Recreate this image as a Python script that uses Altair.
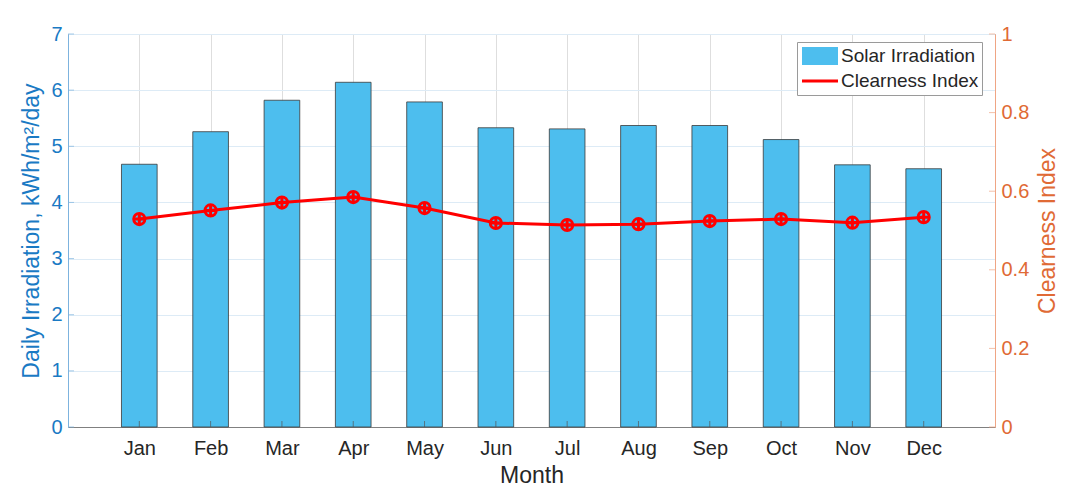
import altair as alt
import pandas as pd

months = ["Jan", "Feb", "Mar", "Apr", "May", "Jun", "Jul", "Aug", "Sep", "Oct", "Nov", "Dec"]
irradiation = [4.68, 5.26, 5.82, 6.14, 5.79, 5.33, 5.31, 5.37, 5.37, 5.12, 4.67, 4.60]
clearness = [0.529, 0.551, 0.571, 0.585, 0.557, 0.519, 0.514, 0.516, 0.524, 0.529, 0.520, 0.534]
series_names = ["Solar Irradiation", "Clearness Index"]
left_ticks = [0, 1, 2, 3, 4, 5, 6, 7]
right_ticks = [0, 0.2, 0.4, 0.6, 0.8, 1]
month_idx = list(range(1, 13))

FONT = "Liberation Sans"
LEFT_TXT = "#1A7AC4"
LEFT_LINE = "#7DB3DE"
RIGHT_TXT = "#E06A35"
RIGHT_LINE = "#EFA584"
DARK = "#262626"

df = pd.DataFrame({
    "idx": month_idx,
    "month": months,
    "irr": irradiation,
    "ci": clearness,
    "series": ["Clearness Index"] * 12,
})
lt = pd.DataFrame({"v": left_ticks})
rt = pd.DataFrame({"v": right_ticks})

xscale = alt.Scale(domain=[0, 13], nice=False, zero=False)
lscale = alt.Scale(domain=[0, 7], nice=False)
rscale = alt.Scale(domain=[0, 1], nice=False)
label_expr = "[" + ",".join(f"'{m}'" for m in months) + "][datum.value-1]"

x_axis = alt.Axis(values=month_idx, labelExpr=label_expr, title="Month", grid=True,
                  gridColor="#DEDEDE", domainColor="#808080", ticks=False,
                  labelFontSize=20, labelColor=DARK, titleFontSize=23, titleColor=DARK,
                  labelPadding=11, titlePadding=6, labelAngle=0)
l_axis = alt.Axis(values=left_ticks, title="Daily Irradiation, kWh/m²/day", grid=True,
                  gridColor="#DDEBF6", domainColor=LEFT_LINE, ticks=False,
                  labelColor=LEFT_TXT, titleColor=LEFT_TXT, labelFontSize=20, titleFontSize=23,
                  labelPadding=6, titlePadding=7)
r_axis = alt.Axis(orient="right", values=right_ticks, format="~g", title="Clearness Index",
                  grid=False, domainColor=RIGHT_LINE, ticks=False, labelColor=RIGHT_TXT,
                  titleColor=RIGHT_TXT, labelFontSize=20, titleFontSize=23, labelPadding=6,
                  titlePadding=8, titleAngle=270, titleBaseline="top")

bars = alt.Chart(df).transform_calculate(
    x0="datum.idx - 0.25", x1="datum.idx + 0.25", base0="0"
).mark_bar(fill="#4DBEEE", stroke="#3a3a3a", strokeWidth=0.8).encode(
    x=alt.X("x0:Q", scale=xscale, axis=x_axis),
    x2="x1:Q",
    y=alt.Y("irr:Q", scale=lscale, axis=l_axis),
    y2="base0:Q",
)

xticks = alt.Chart(df).transform_calculate(base0="0").mark_tick(
    orient="vertical", size=6, thickness=1, yOffset=-3, color="#555555").encode(
    x=alt.X("idx:Q", scale=xscale, axis=x_axis),
    y=alt.Y("base0:Q", scale=lscale, axis=l_axis),
)
lticks = alt.Chart(lt).transform_calculate(xl="0").mark_tick(
    orient="horizontal", size=6, thickness=1, xOffset=3, color=LEFT_LINE).encode(
    x=alt.X("xl:Q", scale=xscale, axis=x_axis),
    y=alt.Y("v:Q", scale=lscale, axis=l_axis),
)

legend = alt.Legend(orient="none", legendX=729, legendY=8, title=None,
                    symbolType="M-18,0H18", symbolSize=4, symbolOffset=10,
                    labelOffset=11, labelFontSize=19, labelFont=FONT, labelColor=DARK,
                    fillColor="white", strokeColor="#9a9a9a", padding=3, rowPadding=3,
                    clipHeight=22)

line = alt.Chart(df).mark_line().encode(
    x=alt.X("idx:Q", scale=xscale, axis=x_axis),
    y=alt.Y("ci:Q", scale=rscale, axis=r_axis),
    color=alt.Color("series:N", scale=alt.Scale(domain=series_names,
                                                range=["#4DBEEE", "#FF0000"]), legend=legend),
    strokeWidth=alt.StrokeWidth("series:O", scale=alt.Scale(domain=series_names, range=[18, 3]),
                                legend=legend),
)
circles = alt.Chart(df).mark_point(shape="circle", size=125, filled=False, color="#FF0000",
                                   strokeWidth=3, opacity=1).encode(
    x=alt.X("idx:Q", scale=xscale, axis=x_axis),
    y=alt.Y("ci:Q", scale=rscale, axis=r_axis),
)
crosses = alt.Chart(df).mark_point(shape="M-1,0H1M0,-1V1", size=150, filled=False,
                                   color="#FF0000", strokeWidth=3, opacity=1).encode(
    x=alt.X("idx:Q", scale=xscale, axis=x_axis),
    y=alt.Y("ci:Q", scale=rscale, axis=r_axis),
)
rticks = alt.Chart(rt).transform_calculate(xr="13").mark_tick(
    orient="horizontal", size=6, thickness=1, xOffset=-3, color=RIGHT_LINE).encode(
    x=alt.X("xr:Q", scale=xscale, axis=x_axis),
    y=alt.Y("v:Q", scale=rscale, axis=r_axis),
)

left = alt.layer(bars, xticks, lticks)
right = alt.layer(line, circles, crosses, rticks)

chart = alt.layer(left, right).resolve_scale(y="independent").properties(
    width=927, height=393,
    autosize=alt.AutoSizeParams(type="none"),
    padding={"left": 60, "top": 26, "right": 81, "bottom": 64},
).configure_view(stroke="#8c8c8c", strokeWidth=1).configure_axis(
    labelFont=FONT, titleFont=FONT, titleFontWeight="normal"
)

chart.save("out.html", embed_options={"renderer": "svg", "actions": False})
